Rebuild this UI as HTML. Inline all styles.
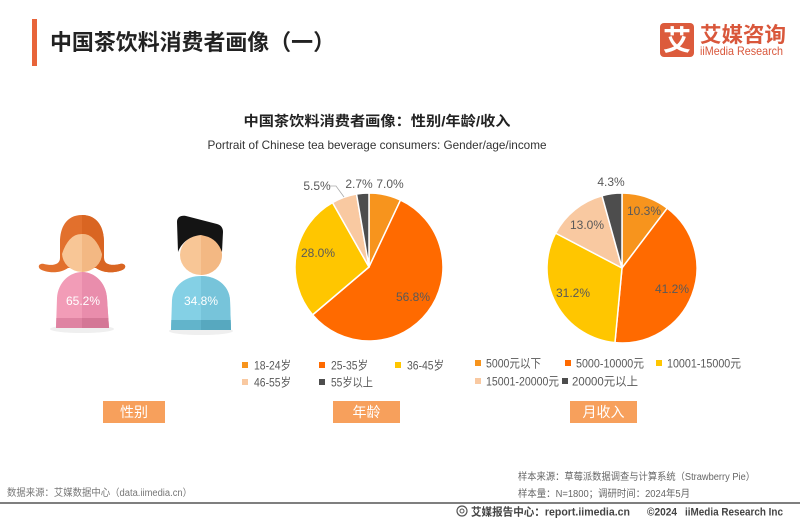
<!DOCTYPE html>
<html><head><meta charset="utf-8"><style>
html,body{margin:0;padding:0;background:#fff;}
svg{display:block;}
.cjk{font-family:"Liberation Sans","Noto Sans CJK SC",sans-serif;}
</style></head><body>
<svg width="800" height="520" viewBox="0 0 800 520" xmlns="http://www.w3.org/2000/svg" class="cjk">
<defs>
<clipPath id="rf"><rect x="82" y="180" width="80" height="170"/></clipPath>
<clipPath id="rm"><rect x="201" y="180" width="80" height="170"/></clipPath>
<clipPath id="fb"><path d="M56,328 L57,298 C58,282 70,272 82,272 C94,272 106,282 107,298 L109,328 Z"/></clipPath>
<clipPath id="mb"><path d="M171,330 L172,300 C173,285 186,276 201,276 C216,276 229,285 230,300 L231,330 Z"/></clipPath>
</defs>

<!-- header -->
<rect x="32" y="19" width="5" height="47" fill="#e8643a"/>
<text x="50" y="50" font-size="22" font-weight="bold" fill="#222" textLength="285" lengthAdjust="spacingAndGlyphs">中国茶饮料消费者画像（一）</text>

<!-- logo -->
<rect x="660" y="23" width="34" height="34" rx="4" fill="#dc5b3c"/>
<text x="677" y="50" font-size="28" font-weight="bold" fill="#fff" text-anchor="middle">艾</text>
<text x="700" y="42" font-size="21" font-weight="bold" fill="#d9573b" textLength="86" lengthAdjust="spacingAndGlyphs">艾媒咨询</text>
<text x="700" y="55" font-size="12" fill="#d9573b" textLength="83" lengthAdjust="spacingAndGlyphs">iiMedia Research</text>

<!-- chart title -->
<text x="377" y="126" font-size="14" font-weight="bold" fill="#222" text-anchor="middle" textLength="267" lengthAdjust="spacingAndGlyphs">中国茶饮料消费者画像：性别/年龄/收入</text>
<text x="377" y="149" font-size="12" fill="#333" text-anchor="middle" textLength="339" lengthAdjust="spacingAndGlyphs">Portrait of Chinese tea beverage consumers: Gender/age/income</text>

<!-- female -->
<ellipse cx="82" cy="329" rx="32" ry="4" fill="#efefef"/>
<path d="M82,215 C66,215 60,228 60,242 L60,258 C60,265 52,266 44,264 C40,263 37,266 40,269 C46,273 60,274 68,268 L96,268 C104,274 118,273 124,269 C127,266 124,263 120,264 C112,266 104,265 104,258 L104,242 C104,228 98,215 82,215 Z" fill="#e2702d"/>
<path clip-path="url(#rf)" d="M82,215 C66,215 60,228 60,242 L60,258 C60,265 52,266 44,264 C40,263 37,266 40,269 C46,273 60,274 68,268 L96,268 C104,274 118,273 124,269 C127,266 124,263 120,264 C112,266 104,265 104,258 L104,242 C104,228 98,215 82,215 Z" fill="#d96522"/>
<path d="M56,328 L57,298 C58,282 70,272 82,272 C94,272 106,282 107,298 L109,328 Z" fill="#f29cb7"/>
<g clip-path="url(#fb)">
<rect x="82" y="270" width="30" height="60" fill="#e98dac"/>
<rect x="50" y="318" width="32" height="12" fill="#df83a2"/>
<rect x="82" y="318" width="30" height="12" fill="#d47796"/>
</g>
<ellipse cx="82" cy="253" rx="20" ry="19" fill="#f8c696"/>
<path clip-path="url(#rf)" d="M62,253 A20,19 0 0 1 102,253 A20,19 0 0 1 62,253 Z" fill="#f3b883"/>
<path d="M82,233 Q68,235 62,254 L61,238 Q66,226 82,226 Z" fill="#e2702d"/>
<path d="M82,233 Q96,235 102,254 L103,238 Q98,226 82,226 Z" fill="#d96522"/>
<text x="83" y="305" font-size="12" fill="#fff" text-anchor="middle">65.2%</text>

<!-- male -->
<ellipse cx="201" cy="331" rx="32" ry="4" fill="#efefef"/>
<path d="M171,330 L172,300 C173,285 186,276 201,276 C216,276 229,285 230,300 L231,330 Z" fill="#84d0e5"/>
<g clip-path="url(#mb)">
<rect x="201" y="274" width="32" height="60" fill="#77c4da"/>
<rect x="168" y="320" width="33" height="12" fill="#62b4cb"/>
<rect x="201" y="320" width="33" height="12" fill="#57a8bf"/>
</g>
<ellipse cx="201" cy="255" rx="21" ry="20" fill="#f8c696"/>
<path clip-path="url(#rm)" d="M180,255 A21,20 0 0 1 222,255 A21,20 0 0 1 180,255 Z" fill="#f3b883"/>
<path d="M178,252 L177,222 C177,217 181,215 186,216 L217,224 C221,225 223,228 223,232 L222,252 C219,244 214,238 205,236 L201,235 C190,236 182,242 178,252 Z" fill="#141414"/>
<text x="201" y="305" font-size="12" fill="#fff" text-anchor="middle">34.8%</text>

<!-- pie age -->
<g stroke="#fff" stroke-width="1.5" stroke-linejoin="round">
<path d="M369,267 L369,193 A74,74 0 0 1 400.51,200.04 Z" fill="#f7941d"/>
<path d="M369,267 L400.51,200.04 A74,74 0 1 1 312.57,314.88 Z" fill="#ff6a00"/>
<path d="M369,267 L312.57,314.88 A74,74 0 0 1 332.54,202.61 Z" fill="#ffc600"/>
<path d="M369,267 L332.54,202.61 A74,74 0 0 1 356.51,194.06 Z" fill="#f9c9a1"/>
<path d="M369,267 L356.51,194.06 A74,74 0 0 1 369,193 Z" fill="#4d4d4d"/>
</g>
<polyline points="330,186 336,186 344,197" fill="none" stroke="#aaa" stroke-width="0.8"/>
<g font-size="12" fill="#595959" text-anchor="middle">
<text x="390" y="188">7.0%</text>
<text x="359" y="188">2.7%</text>
<text x="317" y="190">5.5%</text>
<text x="318" y="257">28.0%</text>
<text x="413" y="301">56.8%</text>
</g>

<!-- pie income -->
<g stroke="#fff" stroke-width="1.5" stroke-linejoin="round">
<path d="M622,268 L622,193 A75,75 0 0 1 667.22,208.16 Z" fill="#f7941d"/>
<path d="M622,268 L667.22,208.16 A75,75 0 0 1 614.94,342.67 Z" fill="#ff6a00"/>
<path d="M622,268 L614.94,342.67 A75,75 0 0 1 555.61,233.11 Z" fill="#ffc600"/>
<path d="M622,268 L555.61,233.11 A75,75 0 0 1 601.98,195.72 Z" fill="#f9c9a1"/>
<path d="M622,268 L601.98,195.72 A75,75 0 0 1 622,193 Z" fill="#4d4d4d"/>
</g>
<g font-size="12" fill="#595959" text-anchor="middle">
<text x="611" y="186">4.3%</text>
<text x="644" y="215">10.3%</text>
<text x="587" y="229">13.0%</text>
<text x="573" y="297">31.2%</text>
<text x="672" y="293">41.2%</text>
</g>

<!-- legend age -->
<g font-size="12" fill="#595959" lengthAdjust="spacingAndGlyphs">
<rect x="242" y="362" width="6" height="6" fill="#f7941d"/><text x="254" y="369.5" textLength="37" lengthAdjust="spacingAndGlyphs">18-24岁</text>
<rect x="319" y="362" width="6" height="6" fill="#ff6a00"/><text x="331" y="369.5" textLength="37" lengthAdjust="spacingAndGlyphs">25-35岁</text>
<rect x="395" y="362" width="6" height="6" fill="#ffc600"/><text x="407" y="369.5" textLength="37" lengthAdjust="spacingAndGlyphs">36-45岁</text>
<rect x="242" y="379" width="6" height="6" fill="#f9c9a1"/><text x="254" y="386.5" textLength="37" lengthAdjust="spacingAndGlyphs">46-55岁</text>
<rect x="319" y="379" width="6" height="6" fill="#4d4d4d"/><text x="331" y="386.5" textLength="42" lengthAdjust="spacingAndGlyphs">55岁以上</text>
</g>
<!-- legend income -->
<g font-size="12" fill="#595959">
<rect x="475" y="360" width="6" height="6" fill="#f7941d"/><text x="486" y="367.5" textLength="55" lengthAdjust="spacingAndGlyphs">5000元以下</text>
<rect x="565" y="360" width="6" height="6" fill="#ff6a00"/><text x="576" y="367.5" textLength="68" lengthAdjust="spacingAndGlyphs">5000-10000元</text>
<rect x="656" y="360" width="6" height="6" fill="#ffc600"/><text x="667" y="367.5" textLength="74" lengthAdjust="spacingAndGlyphs">10001-15000元</text>
<rect x="475" y="378" width="6" height="6" fill="#f9c9a1"/><text x="486" y="385.5" textLength="73" lengthAdjust="spacingAndGlyphs">15001-20000元</text>
<rect x="562" y="378" width="6" height="6" fill="#4d4d4d"/><text x="572" y="385.5" textLength="66" lengthAdjust="spacingAndGlyphs">20000元以上</text>
</g>

<!-- buttons -->
<rect x="103" y="401" width="62" height="22" fill="#f7a05c"/>
<text x="134" y="417" font-size="14" fill="#fff" text-anchor="middle">性别</text>
<rect x="333" y="401" width="67" height="22" fill="#f7a05c"/>
<text x="366.5" y="417" font-size="14" fill="#fff" text-anchor="middle">年龄</text>
<rect x="570" y="401" width="67" height="22" fill="#f7a05c"/>
<text x="603.5" y="417" font-size="14" fill="#fff" text-anchor="middle">月收入</text>

<!-- footer -->
<text x="7" y="496" font-size="10" fill="#777" textLength="185" lengthAdjust="spacingAndGlyphs">数据来源：艾媒数据中心（data.iimedia.cn）</text>
<text x="518" y="480" font-size="10" fill="#666" textLength="237" lengthAdjust="spacingAndGlyphs">样本来源：草莓派数据调查与计算系统（Strawberry Pie）</text>
<text x="518" y="497" font-size="10" fill="#666" textLength="172" lengthAdjust="spacingAndGlyphs">样本量：N=1800；调研时间：2024年5月</text>
<line x1="0" y1="503" x2="800" y2="503" stroke="#555" stroke-width="1.5"/>
<circle cx="462" cy="511" r="5" fill="none" stroke="#555" stroke-width="1.2"/>
<circle cx="462" cy="511" r="2" fill="none" stroke="#555" stroke-width="1"/>
<text x="471" y="515.5" font-size="11" font-weight="bold" fill="#444" textLength="159" lengthAdjust="spacingAndGlyphs">艾媒报告中心：report.iimedia.cn</text>
<text x="647" y="515.5" font-size="11" font-weight="bold" fill="#444" textLength="30" lengthAdjust="spacingAndGlyphs">©2024</text>
<text x="685" y="515.5" font-size="11" font-weight="bold" fill="#444" textLength="98" lengthAdjust="spacingAndGlyphs">iiMedia Research Inc</text>
</svg>
</body></html>
